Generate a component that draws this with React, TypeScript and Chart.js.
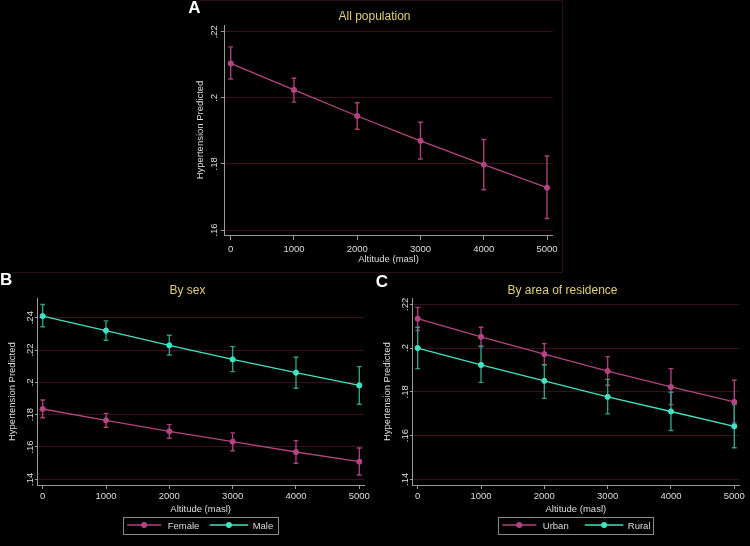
import React, { useEffect, useRef } from "react";
import { Chart, registerables } from "chart.js";

Chart.register(...registerables);

// ---------- data ----------
const altitudes = [0, 1000, 2000, 3000, 4000, 5000];
const xTickLabels = ["0", "1000", "2000", "3000", "4000", "5000"];

const allPred = [0.2104, 0.2024, 0.1945, 0.187, 0.1798, 0.1728];
const allLo = [0.2057, 0.1987, 0.1905, 0.1815, 0.1722, 0.1635];
const allHi = [0.2154, 0.2059, 0.1985, 0.1926, 0.1874, 0.1824];

const femalePred = [0.1835, 0.1765, 0.1697, 0.1633, 0.1569, 0.1509];
const femaleLo = [0.1781, 0.1722, 0.1654, 0.1577, 0.1499, 0.1427];
const femaleHi = [0.1891, 0.1808, 0.1738, 0.1687, 0.1639, 0.1594];
const malePred = [0.241, 0.232, 0.2229, 0.2142, 0.206, 0.1981];
const maleLo = [0.2344, 0.226, 0.2169, 0.2066, 0.1963, 0.1864];
const maleHi = [0.2482, 0.238, 0.2291, 0.2221, 0.2155, 0.2097];

const urbanPred = [0.2134, 0.2051, 0.1972, 0.1895, 0.1822, 0.1754];
const urbanLo = [0.208, 0.201, 0.1924, 0.183, 0.1742, 0.1658];
const urbanHi = [0.2186, 0.2095, 0.202, 0.1961, 0.1906, 0.1853];
const ruralPred = [0.2, 0.1923, 0.185, 0.1777, 0.171, 0.1642];
const ruralLo = [0.1906, 0.1843, 0.177, 0.1699, 0.1623, 0.1544];
const ruralHi = [0.2095, 0.2007, 0.1924, 0.1857, 0.1798, 0.1742];

const yTicksA = [0.16, 0.18, 0.2, 0.22];
const yTickLabelsA = [".16", ".18", ".2", ".22"];
const yTicksB = [0.14, 0.16, 0.18, 0.2, 0.22, 0.24];
const yTickLabelsB = [".14", ".16", ".18", ".2", ".22", ".24"];
const yTicksC = [0.14, 0.16, 0.18, 0.2, 0.22];
const yTickLabelsC = [".14", ".16", ".18", ".2", ".22"];

const panelLetters = ["A", "B", "C"];
const panelTitles = ["All population", "By sex", "By area of residence"];
const xAxisTitle = "Altitude (masl)";
const yAxisTitle = "Hypertension Predicted";
const seriesNamesB = ["Female", "Male"];
const seriesNamesC = ["Urban", "Rural"];

// ---------- styles ----------
const PINK = "#b2457f";
const PINK_BAR = "#a8407a";
const TEAL = "#40e2c2";
const TEAL_BAR = "#2f9d88";
const GRID = "rgb(58,16,32)";
const AXIS = "#9a9a9a";
const TEXT = "#dedede";
const TITLE = "#e2cf76";
const FRAME = "#2c0e18";
const FONT = '"Liberation Sans", Arial, sans-serif';

type Series = { name: string; pred: number[]; lo: number[]; hi: number[]; color: string; barColor: string };

type Geo = {
  left: number; top: number; w: number; h: number;
  aL: number; aR: number; aT: number; aB: number;
  xMin: number; xMax: number; yMin: number; yMax: number;
  yTickLen: number; xTickLen: number;
  yTickX: number; yTitleX: number; xTickY: number; xTitleY: number;
  titleY: number; letterX: number; letterY: number;
};

const geoA: Geo = {
  left: 187, top: 0, w: 375, h: 273,
  aL: 37.3, aR: 365.7, aT: 25, aB: 235,
  xMin: -101, xMax: 5090, yMin: 0.15849, yMax: 0.22203,
  yTickLen: 3.5, xTickLen: 5,
  yTickX: 30.3, yTitleX: 15.7, xTickY: 251.7, xTitleY: 261.7,
  titleY: 20, letterX: 1.3, letterY: 12.5,
};
const geoB: Geo = {
  left: 0, top: 273, w: 375, h: 273,
  aL: 37.3, aR: 364, aT: 25.3, aB: 212,
  xMin: -85, xMax: 5074, yMin: 0.13647, yMax: 0.252,
  yTickLen: 2.5, xTickLen: 4,
  yTickX: 33.3, yTitleX: 15, xTickY: 226, xTitleY: 238.7,
  titleY: 21.3, letterX: 0, letterY: 12,
};
const geoC: Geo = {
  left: 375, top: 273, w: 375, h: 273,
  aL: 37.3, aR: 364.3, aT: 25.3, aB: 212,
  xMin: -85, xMax: 5079, yMin: 0.1374, yMax: 0.22274,
  yTickLen: 2.5, xTickLen: 4,
  yTickX: 33.3, yTitleX: 15, xTickY: 226, xTitleY: 238.7,
  titleY: 21.3, letterX: 0.7, letterY: 13.5,
};

type PanelProps = {
  geo: Geo; letter: string; title: string; series: Series[];
  yTicks: number[]; yTickLabels: string[]; legend: boolean;
};

function Panel({ geo, letter, title, series, yTicks, yTickLabels, legend }: PanelProps) {
  const ref = useRef<HTMLCanvasElement | null>(null);

  useEffect(() => {
    const canvas = ref.current;
    if (!canvas) return;
    const g = geo;

    const drawPlugin = {
      id: "stataDecor",
      beforeDatasetsDraw(chart: any) {
        const ctx = chart.ctx;
        const xs = chart.scales.x;
        const ys = chart.scales.y;
        ctx.save();
        series.forEach((s) => {
          ctx.strokeStyle = s.barColor;
          ctx.lineWidth = 1.4;
          altitudes.forEach((a, i) => {
            const x = xs.getPixelForValue(a);
            const y1 = ys.getPixelForValue(s.lo[i]);
            const y2 = ys.getPixelForValue(s.hi[i]);
            ctx.beginPath();
            ctx.moveTo(x, y1);
            ctx.lineTo(x, y2);
            ctx.moveTo(x - 2.4, y1);
            ctx.lineTo(x + 2.4, y1);
            ctx.moveTo(x - 2.4, y2);
            ctx.lineTo(x + 2.4, y2);
            ctx.stroke();
          });
        });
        ctx.restore();
      },
      afterDraw(chart: any) {
        const ctx = chart.ctx;
        const xs = chart.scales.x;
        const ys = chart.scales.y;
        const ca = chart.chartArea;
        const cx = (ca.left + ca.right) / 2;
        const cy = (ca.top + ca.bottom) / 2;
        ctx.save();
        ctx.fillStyle = TEXT;
        ctx.font = `9.5px ${FONT}`;
        // y tick labels (rotated)
        yTicks.forEach((v, i) => {
          const y = ys.getPixelForValue(v);
          ctx.save();
          ctx.translate(g.yTickX, y);
          ctx.rotate(-Math.PI / 2);
          ctx.textAlign = "center";
          ctx.textBaseline = "alphabetic";
          ctx.fillText(yTickLabels[i], 0, 0);
          ctx.restore();
        });
        // y title
        ctx.save();
        ctx.translate(g.yTitleX, cy);
        ctx.rotate(-Math.PI / 2);
        ctx.textAlign = "center";
        ctx.textBaseline = "alphabetic";
        ctx.fillText(yAxisTitle, 0, 0);
        ctx.restore();
        // x tick labels
        ctx.textAlign = "center";
        ctx.textBaseline = "alphabetic";
        altitudes.forEach((a, i) => {
          ctx.fillText(xTickLabels[i], xs.getPixelForValue(a), g.xTickY);
        });
        // x title
        ctx.fillText(xAxisTitle, cx, g.xTitleY);
        // main title
        ctx.fillStyle = TITLE;
        ctx.font = `12px ${FONT}`;
        ctx.fillText(title, g.w / 2, g.titleY);
        // panel letter
        ctx.fillStyle = "#ffffff";
        ctx.font = `bold 17px ${FONT}`;
        ctx.textAlign = "left";
        ctx.fillText(letter, g.letterX, g.letterY);
        // legend
        if (legend) {
          const top = 243.7;
          const bottom = 260.3;
          const ly = 252;
          ctx.strokeStyle = "#8a8a8a";
          ctx.lineWidth = 1;
          ctx.strokeRect(Math.round(cx - 77.5) + 0.5, Math.round(top) + 0.5, 155, Math.round(bottom - top));
          const items = [
            { l0: -73.5, l1: -39.5, m: -56.5, t: -33 },
            { l0: 9, l1: 47.5, m: 28.3, t: 52 },
          ];
          series.forEach((s, i) => {
            const it = items[i];
            ctx.strokeStyle = s.color;
            ctx.lineWidth = 1.3;
            ctx.beginPath();
            ctx.moveTo(cx + it.l0, ly);
            ctx.lineTo(cx + it.l1, ly);
            ctx.stroke();
            ctx.fillStyle = s.color;
            ctx.beginPath();
            ctx.arc(cx + it.m, ly, 3, 0, Math.PI * 2);
            ctx.fill();
            ctx.fillStyle = TEXT;
            ctx.font = `9.5px ${FONT}`;
            ctx.textAlign = "left";
            ctx.fillText(s.name, cx + it.t, 256);
          });
        }
        ctx.restore();
      },
    };

    const chart = new Chart(canvas, {
      type: "line",
      data: {
        datasets: series.map((s) => ({
          label: s.name,
          data: altitudes.map((a, i) => ({ x: a, y: s.pred[i] })),
          borderColor: s.color,
          backgroundColor: s.color,
          pointBackgroundColor: s.color,
          pointBorderColor: s.color,
          pointRadius: 2.6,
          pointBorderWidth: 1,
          borderWidth: 1.3,
          tension: 0,
          fill: false,
        })),
      },
      options: {
        animation: false,
        responsive: false,
        maintainAspectRatio: false,
        layout: { padding: { left: 0, top: g.aT, right: g.w - g.aR, bottom: 0 } },
        plugins: {
          legend: { display: false },
          title: { display: false },
          tooltip: { enabled: false },
        },
        scales: {
          x: {
            type: "linear",
            min: g.xMin,
            max: g.xMax,
            afterBuildTicks: (s: any) => {
              s.ticks = altitudes.map((v) => ({ value: v }));
            },
            afterFit: (s: any) => {
              s.height = g.h - g.aB;
            },
            ticks: { display: false },
            grid: {
              display: true,
              drawOnChartArea: false,
              drawTicks: true,
              tickLength: g.xTickLen,
              color: AXIS,
              tickColor: AXIS,
            },
            border: { display: true, color: AXIS, width: 1 },
          },
          y: {
            type: "linear",
            min: g.yMin,
            max: g.yMax,
            afterBuildTicks: (s: any) => {
              s.ticks = yTicks.map((v) => ({ value: v }));
            },
            afterFit: (s: any) => {
              s.width = g.aL;
            },
            ticks: { display: false },
            grid: {
              display: true,
              drawOnChartArea: true,
              drawTicks: true,
              tickLength: g.yTickLen,
              color: GRID,
              tickColor: AXIS,
              lineWidth: 1,
            },
            border: { display: true, color: AXIS, width: 1 },
          },
        },
      },
      plugins: [drawPlugin],
    } as any);

    return () => chart.destroy();
  }, []);

  return (
    <canvas
      ref={ref}
      width={geo.w}
      height={geo.h}
      style={{ position: "absolute", left: geo.left, top: geo.top, width: geo.w, height: geo.h }}
    />
  );
}

const seriesA: Series[] = [
  { name: "All", pred: allPred, lo: allLo, hi: allHi, color: PINK, barColor: PINK_BAR },
];
const seriesB: Series[] = [
  { name: seriesNamesB[0], pred: femalePred, lo: femaleLo, hi: femaleHi, color: PINK, barColor: PINK_BAR },
  { name: seriesNamesB[1], pred: malePred, lo: maleLo, hi: maleHi, color: TEAL, barColor: TEAL_BAR },
];
const seriesC: Series[] = [
  { name: seriesNamesC[0], pred: urbanPred, lo: urbanLo, hi: urbanHi, color: PINK, barColor: PINK_BAR },
  { name: seriesNamesC[1], pred: ruralPred, lo: ruralLo, hi: ruralHi, color: TEAL, barColor: TEAL_BAR },
];

export default function App() {
  return (
    <div
      style={{
        position: "fixed",
        left: 0,
        top: 0,
        width: 750,
        height: 546,
        background: "#000",
        overflow: "hidden",
      }}
    >
      {/* faint panel frames */}
      <div style={{ position: "absolute", left: 199, top: 0, width: 363, height: 1, background: FRAME }} />
      <div style={{ position: "absolute", left: 562, top: 0, width: 1, height: 273, background: FRAME }} />
      <div style={{ position: "absolute", left: 11, top: 272, width: 551, height: 1, background: FRAME }} />
      <Panel geo={geoA} letter={panelLetters[0]} title={panelTitles[0]} series={seriesA} yTicks={yTicksA} yTickLabels={yTickLabelsA} legend={false} />
      <Panel geo={geoB} letter={panelLetters[1]} title={panelTitles[1]} series={seriesB} yTicks={yTicksB} yTickLabels={yTickLabelsB} legend={true} />
      <Panel geo={geoC} letter={panelLetters[2]} title={panelTitles[2]} series={seriesC} yTicks={yTicksC} yTickLabels={yTickLabelsC} legend={true} />
    </div>
  );
}
